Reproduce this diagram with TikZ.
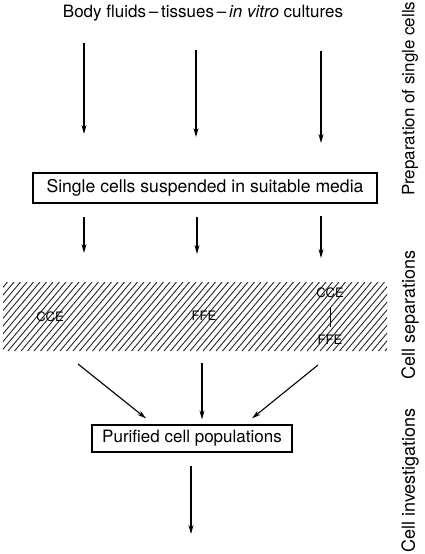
\documentclass[tikz,border=0pt]{standalone}
\usepackage{fontspec}
\setmainfont{TeX Gyre Heros}
\usetikzlibrary{arrows.meta}

\begin{document}
\begin{tikzpicture}[x=1pt, y=-1pt, >={Stealth[length=9pt, width=5pt]}, line width=1.1pt,
  every node/.style={font=\fontsize{17}{20}\selectfont},
  stepbox/.style={draw, line width=1.2pt, inner sep=0pt, align=center},
  flow/.style={->, line width=1.1pt},
  sidelabel/.style={rotate=90, anchor=center, font=\fontsize{18}{20}\selectfont},
  hatch/.style={line width=0.9pt, black!85},
  method/.style={font=\fontsize{13}{14}\selectfont, inner sep=1pt}]

\useasboundingbox (0,0) rectangle (424,554);

% --- Source material ---
\node (src) at (203,13) {Body fluids\,--\,tissues\,--\,\textit{in vitro} cultures};

\coordinate (a1) at (84,43);   \coordinate (b1) at (84,134);
\coordinate (a2) at (196,50);  \coordinate (b2) at (196,137);
\coordinate (a3) at (321,51);  \coordinate (b3) at (321,143);
\draw[flow] (a1) -- (b1);
\draw[flow] (a2) -- (b2);
\draw[flow] (a3) -- (b3);

% --- Single cell suspension ---
\node[stepbox, minimum width=344pt, minimum height=30pt, font=\fontsize{17.6}{20}\selectfont]
  (cells) at (205,188) {Single cells suspended in suitable media};

\coordinate (c1) at (84,217);   \coordinate (d1) at (84,253);
\coordinate (c2) at (197,217);  \coordinate (d2) at (197,254);
\coordinate (c3) at (321,216);  \coordinate (d3) at (321,258);
\draw[flow] (c1) -- (d1);
\draw[flow] (c2) -- (d2);
\draw[flow] (c3) -- (d3);

% --- Separation band (hatched) ---
\begin{scope}
  \clip (3,282) rectangle (387,351);
  \foreach \x in {-70,-63.5,...,390}
    \draw[hatch] (\x,351) -- ++(58,-69);
\end{scope}

\node[method] (cce) at (50,317) {CCE};
\node[method] (ffe) at (204,316) {FFE};
\node[method] (cce2) at (330,293) {CCE};
\node[method] (ffe2) at (330,340) {FFE};
\draw[line width=0.9pt] (cce2.south) ++(0,7) -- ([yshift=7pt]ffe2.north);

% --- Purified populations ---
\node[stepbox, minimum width=200pt, minimum height=27pt] (pure) at (192,438.5)
  {Purified cell populations};

\coordinate (e1) at (78,364);
\coordinate (e2) at (202,363);
\coordinate (e3) at (318,365);
\draw[flow] (e1) -- ([xshift=-46pt, yshift=6pt]pure.north);
\draw[flow] (e2) -- ([xshift=10pt, yshift=5pt]pure.north);
\draw[flow] (e3) -- ([xshift=60pt, yshift=6pt]pure.north);

\coordinate (f1) at (191,534);
\draw[flow] ([xshift=-1pt, yshift=-13pt]pure.south) -- (f1);

% --- Stage labels on the right ---
\node[sidelabel, anchor=east, inner sep=0pt, font=\fontsize{17}{20}\selectfont]
  (prep) at (410,1) {Preparation of single cells};
\node[sidelabel] (sep) at (410,315) {Cell separations};
\node[sidelabel, anchor=west, inner sep=0pt] (inv) at (410,553) {Cell investigations};

\end{tikzpicture}
\end{document}
